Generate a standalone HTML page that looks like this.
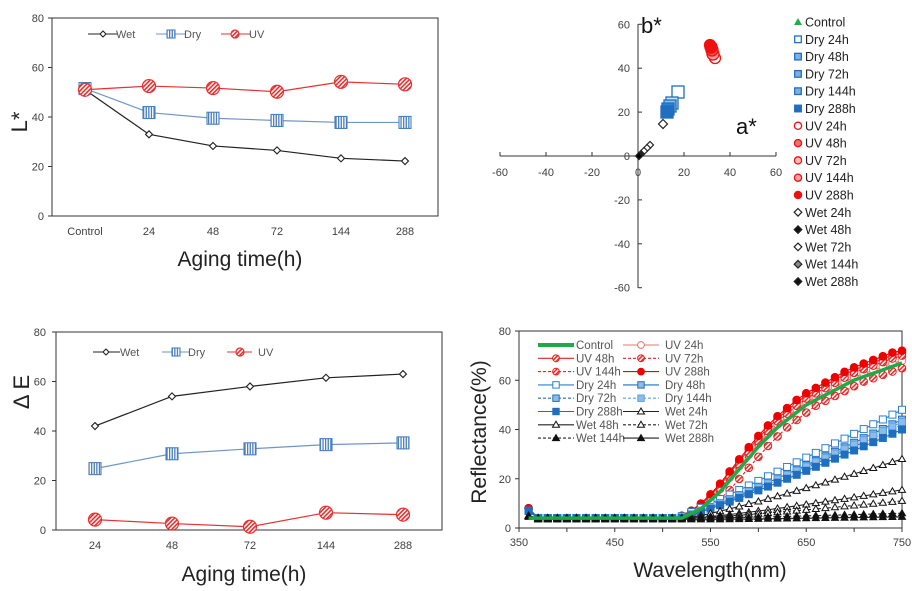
<!DOCTYPE html><html><head><meta charset="utf-8"><style>
html,body{margin:0;padding:0;background:#fff;}
svg text{font-family:"Liberation Sans",sans-serif;}
</style></head><body>
<svg id="s" width="912" height="586" viewBox="0 0 912 586" xmlns="http://www.w3.org/2000/svg">
<defs>
<pattern id="hr" width="3" height="3" patternUnits="userSpaceOnUse" patternTransform="rotate(45)"><rect width="3" height="3" fill="#fff"/><rect width="1.6" height="3" fill="#e83030"/></pattern>
<pattern id="vb" width="2.6" height="3" patternUnits="userSpaceOnUse"><rect width="3" height="3" fill="#fff"/><rect width="1.3" height="3" fill="#4a7fc0"/></pattern>
</defs>
<g id="g"></g>
<text x="240" y="266" font-size="21" text-anchor="middle" fill="#222">Aging time(h)</text>
<text x="244" y="581" font-size="21" text-anchor="middle" fill="#222">Aging time(h)</text>
<text x="710" y="577" font-size="21" text-anchor="middle" fill="#222">Wavelength(nm)</text>
<text transform="translate(27,122) rotate(-90)" font-size="22" text-anchor="middle" fill="#222">L*</text>
<text transform="translate(29,392) rotate(-90)" font-size="22" text-anchor="middle" fill="#222">Δ E</text>
<text transform="translate(486,432) rotate(-90)" font-size="21" text-anchor="middle" fill="#222">Reflectance(%)</text>
<text x="641" y="33" font-size="22" fill="#111">b*</text>
<text x="736" y="134" font-size="22" fill="#111">a*</text>
</svg>
<script>
const g=document.getElementById('g');let h='';
const T=(x,y,t,a,fs,c)=>{h+=`<text x="${x}" y="${y}" font-size="${fs||11}" text-anchor="${a||'middle'}" fill="${c||'#404040'}">${t}</text>`;};
const L=(x1,y1,x2,y2,c,w,d)=>{h+=`<line x1="${x1}" y1="${y1}" x2="${x2}" y2="${y2}" stroke="${c||'#000'}" stroke-width="${w||1}" ${d?`stroke-dasharray="${d}"`:''}/>`;};
const uvM=(x,y,r)=>{h+=`<circle cx="${x}" cy="${y}" r="${r||6.5}" fill="url(#hr)" stroke="#e83030" stroke-width="1.2"/>`;};
const dryM=(x,y,s)=>{s=s||6;h+=`<rect x="${x-s}" y="${y-s}" width="${2*s}" height="${2*s}" fill="url(#vb)" stroke="#4a7fc0" stroke-width="1.1"/>`;};
const wetM=(x,y,r)=>{r=r||3.5;h+=`<polygon points="${x},${y-r} ${x+r},${y} ${x},${y+r} ${x-r},${y}" fill="#fff" stroke="#222" stroke-width="1.1"/>`;};
const poly=(pts,c,w,d)=>{h+=`<polyline points="${pts.map(p=>p.join(',')).join(' ')}" fill="none" stroke="${c}" stroke-width="${w||1.2}" ${d?`stroke-dasharray="${d}"`:''}/>`;};
// Panel 1
{const x0=52,x1=438,y0=18,y1=216,py=v=>216-v*2.475;
h+=`<rect x="${x0}" y="${y0}" width="${x1-x0}" height="${y1-y0}" fill="none" stroke="#333" stroke-width="1"/>`;
for(let v=0;v<=80;v+=20){T(44,py(v)+4,v,'end');L(x0-4,py(v),x0,py(v),'#333');}
const xs=[85,149,213,277,341,405],lab=['Control','24','48','72','144','288'];
xs.forEach((x,i)=>T(x,235,lab[i]));
const wet=[51,33,28.3,26.5,23.3,22.2],dry=[51.5,41.8,39.5,38.6,37.8,37.8],uv=[51,52.5,51.7,50.2,54.2,53.2];
poly(xs.map((x,i)=>[x,py(wet[i])]),'#222');poly(xs.map((x,i)=>[x,py(dry[i])]),'#6f95c8');poly(xs.map((x,i)=>[x,py(uv[i])]),'#e83030');
xs.forEach((x,i)=>{wetM(x,py(wet[i]));dryM(x,py(dry[i]));uvM(x,py(uv[i]));});
L(88,34,118,34,'#222');wetM(103,34,3);T(116,38,'Wet','start',11,'#555');
L(156,34,186,34,'#6f95c8');dryM(171,34,4);T(184,38,'Dry','start',11,'#555');
L(221,34,250,34,'#e83030');uvM(235,34,4);T(249,38,'UV','start',11,'#555');}
// Panel 3
{const x0=56,x1=442,y0=332,y1=530,py=v=>530-v*2.475;
h+=`<rect x="${x0}" y="${y0}" width="${x1-x0}" height="${y1-y0}" fill="none" stroke="#333"/>`;
for(let v=0;v<=80;v+=20){T(46,py(v)+4,v,'end');L(x0-4,py(v),x0,py(v),'#333');}
const xs=[95,172,250,326,403],lab=['24','48','72','144','288'];
xs.forEach((x,i)=>T(x,549,lab[i]));
const wet=[42,54,58,61.5,63],dry=[24.8,30.8,32.8,34.5,35.2],uv=[4.2,2.6,1.3,7,6.2];
poly(xs.map((x,i)=>[x,py(wet[i])]),'#222');poly(xs.map((x,i)=>[x,py(dry[i])]),'#6f95c8');poly(xs.map((x,i)=>[x,py(uv[i])]),'#e83030');
xs.forEach((x,i)=>{wetM(x,py(wet[i]));dryM(x,py(dry[i]));uvM(x,py(uv[i]));});
L(93,352,120,352,'#222');wetM(106,352,3);T(120,356,'Wet','start',11,'#555');
L(162,352,190,352,'#6f95c8');dryM(176,352,4);T(188,356,'Dry','start',11,'#555');
L(227,352,252,352,'#e83030');uvM(240,352,4);T(258,356,'UV','start',11,'#555');}
// Panel 2
{const ox=638,oy=156,px=v=>ox+v*2.3,py=v=>oy-v*2.195;
L(px(-60),oy,px(60),oy,'#333');L(ox,py(60),ox,py(-60),'#333');
for(let v=-60;v<=60;v+=20){L(px(v),oy,px(v),oy-4,'#333');L(ox,py(v),ox+4,py(v),'#333');
T(px(v),oy+20,v);if(v!=0)T(ox-8,py(v)+4,v,'end');}
T(ox-8,oy+4,0,'end');
const sq=(x,y,s,f,st)=>{h+=`<rect x="${x-s}" y="${y-s}" width="${2*s}" height="${2*s}" fill="${f}" stroke="${st||'#1e6fc0'}" stroke-width="1.3"/>`;};
const ci=(x,y,r,f)=>{h+=`<circle cx="${x}" cy="${y}" r="${r}" fill="${f}" stroke="#f01010" stroke-width="1.3"/>`;};
const di=(x,y,r,f)=>{h+=`<polygon points="${x},${y-r} ${x+r},${y} ${x},${y+r} ${x-r},${y}" fill="${f}" stroke="#222" stroke-width="1.2"/>`;};
h+=`<polygon points="716,56 720,62 712,62" fill="#1fae4b"/>`;
di(650,145,3.5,'#fff');di(647,148,3.5,'#fff');di(644,151,3.5,'#fff');di(641,154,3.5,'#222');di(639,156,3.5,'#000');
di(663,124,4.5,'#fff');
sq(678,92,6,'#fff');sq(672,103,6,'#cfe2f5');sq(670,106,6,'#8fbbe6');sq(668,109,6,'#2f80d0');sq(667,112,6,'#1e6fc0');
ci(715,58,5.5,'#fff');ci(713,54,6,'#f7a0a0');ci(712,50,6,'#ec5050');ci(711,47,6,'#f01010');ci(710,45,5.5,'#f01010');
const lg=[['Control','tri'],['Dry 24h','s0'],['Dry 48h','s1'],['Dry 72h','s2'],['Dry 144h','s3'],['Dry 288h','s4'],['UV 24h','c0'],['UV 48h','c1'],['UV 72h','c2'],['UV 144h','c3'],['UV 288h','c4'],['Wet 24h','d0'],['Wet 48h','d1'],['Wet 72h','d0'],['Wet 144h','d2'],['Wet 288h','d1']];
lg.forEach((e,i)=>{const y=22+i*17.3,x=798;const k=e[1];
if(k=='tri')h+=`<polygon points="${x},${y-4} ${x+4},${y+3} ${x-4},${y+3}" fill="#1fae4b"/>`;
else if(k[0]=='s'){const f=['#fff','#7fb0e0','#7fb0e0','#7fb0e0','#1e6fc0'][+k[1]];sq(x,y,3.3,f);}
else if(k[0]=='c'){const f=['#fff','#f07070','#fbb','#f7a0a0','#f01010'][+k[1]];ci(x,y,3.6,f);}
else{const f=['#fff','#111','#888'][+k[1]];di(x,y,3.8,f);}
T(805,y+4.5,e[0],'start',12.5,'#222');});}
// Panel 4
{const x0=519,x1=902,y0=331,y1=528,px=l=>519+(l-350)*0.9575,py=v=>528-v*2.4625;
h+=`<rect x="${x0}" y="${y0}" width="${x1-x0}" height="${y1-y0}" fill="none" stroke="#333"/>`;
for(let v=0;v<=80;v+=20){T(511,py(v)+4,v,'end');L(x0-4,py(v),x0,py(v),'#333');}
for(let l=350;l<=750;l+=50){L(px(l),y1,px(l),y1+4,'#333');if(l%100==50)T(px(l),546,l);}
const tb=[[350,0],[520,0],[540,0.06],[560,0.17],[580,0.315],[600,0.46],[620,0.585],[650,0.73],[700,0.89],[750,1]];
const shp=l=>{for(let i=1;i<tb.length;i++){if(l<=tb[i][0]){const [a,fa]=tb[i-1],[b,fb]=tb[i];return fa+(fb-fa)*(l-a)/(b-a);}}return 1;};
const curve=(top,sh)=>l=>4+(top-4)*shp(l+(sh||0));
const lin=(top,st,p)=>l=>l<st?4:4+(top-4)*Math.pow((l-st)/(750-st),p);
const S=[
['ctrl',curve(67,0),'#1faa48',''],
['uv0',curve(68,2),'#f07070',''],['uv1',curve(71,4),'#e82020',''],['uv2',curve(66,-8),'#e82020','3,2'],['uv3',curve(70,2),'#e82020','3,2'],['uv4',curve(72,5),'#e00',''],
['d0',lin(48,515,1.05),'#2f80d0',''],['d1',lin(44,518,1.1),'#1e6fc0',''],['d2',lin(42,518,1.1),'#1e6fc0','3,2'],['d3',lin(43,518,1.1),'#5aa0e0','3,2'],['d4',lin(40,520,1.1),'#1e6fc0',''],
['w0',lin(28,525,1.15),'#222',''],['w1',lin(15.5,530,1.2),'#222',''],['w2',lin(11,530,1.2),'#222','3,2'],['w3',lin(6,540,1.2),'#222','3,2'],['w4',l=>3.5+(l>560?(l-560)/190:0),'#222','']];
const ls=[];for(let l=360;l<=750;l+=10)ls.push(l);
S.forEach(([id,f,c,d])=>{const v=l=>{let r=f(l);if(l==360)r+= id[0]=='u'?4:id[0]=='d'?3:1;return r;};
if(id=='ctrl')return;
poly(ls.map(l=>[px(l),py(v(l))]),c,1.1,d);
ls.forEach(l=>{const x=px(l),y=py(v(l));
if(id[0]=='u')h+=`<circle cx="${x}" cy="${y}" r="3.8" fill="${id=='uv4'?'#e00':id=='uv0'?'#fff':'url(#hr)'}" stroke="${c}" stroke-width="1"/>`;
else if(id[0]=='d')h+=`<rect x="${x-3.5}" y="${y-3.5}" width="7" height="7" fill="${id=='d4'?'#1e6fc0':id=='d0'?'#fff':'#8fbbe6'}" stroke="${c}" stroke-width="1"/>`;
else h+=`<polygon points="${x},${y-3.5} ${x+3.5},${y+2.5} ${x-3.5},${y+2.5}" fill="${id=='w4'||id=='w3'?'#111':'#fff'}" stroke="#111" stroke-width="1"/>`;});});
poly(ls.map(l=>[px(l),py(S[0][1](l))]),'#1faa48',3.5);
const leg=[['Control','ctrl'],['UV 24h','uv0'],['UV 48h','uv1'],['UV 72h','uv2'],['UV 144h','uv3'],['UV 288h','uv4'],['Dry 24h','d0'],['Dry 48h','d1'],['Dry 72h','d2'],['Dry 144h','d3'],['Dry 288h','d4'],['Wet 24h','w0'],['Wet 48h','w1'],['Wet 72h','w2'],['Wet 144h','w3'],['Wet 288h','w4']];
leg.forEach((e,i)=>{const col=i%2,row=Math.floor(i/2),y=345+row*13.3,lx=col?623:538,tx=col?665:576;
const s=S.find(q=>q[0]==e[1]);L(lx,y,lx+36,y,s[2],e[1]=='ctrl'?4:1.1,s[3]);
const x=lx+18,id=e[1];
if(id[0]=='u')h+=`<circle cx="${x}" cy="${y}" r="3.4" fill="${id=='uv4'?'#e00':id=='uv0'?'#fff':'url(#hr)'}" stroke="${s[2]}"/>`;
else if(id[0]=='d')h+=`<rect x="${x-3.2}" y="${y-3.2}" width="6.4" height="6.4" fill="${id=='d4'?'#1e6fc0':id=='d0'?'#fff':'#8fbbe6'}" stroke="${s[2]}"/>`;
else if(id[0]=='w')h+=`<polygon points="${x},${y-3.5} ${x+3.5},${y+2.5} ${x-3.5},${y+2.5}" fill="${id=='w4'||id=='w3'?'#111':'#fff'}" stroke="#111"/>`;
T(tx,y+4,e[0],'start',11.5,'#555');});}
g.innerHTML=h;
</script>
</body></html>
